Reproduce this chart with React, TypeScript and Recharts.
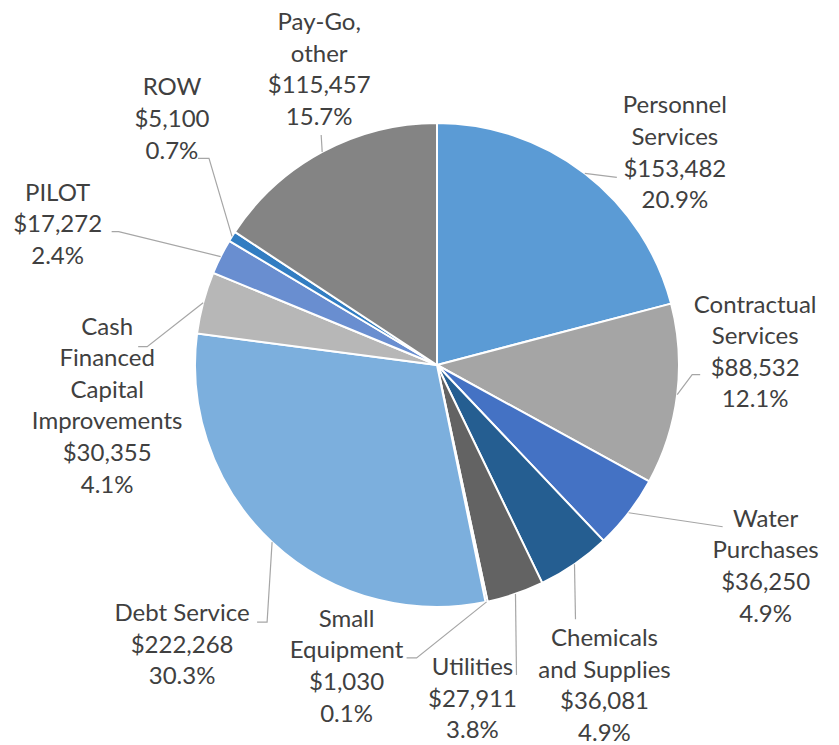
import React from "react";
import { PieChart, Pie, Cell } from "recharts";

const categories: string[][] = [
  ["Personnel", "Services"],
  ["Contractual", "Services"],
  ["Water", "Purchases"],
  ["Chemicals", "and Supplies"],
  ["Utilities"],
  ["Small", "Equipment"],
  ["Debt Service"],
  ["Cash", "Financed", "Capital", "Improvements"],
  ["PILOT"],
  ["ROW"],
  ["Pay-Go,", "other"],
];

const values: number[] = [
  153482, 88532, 36250, 36081, 27911, 1030, 222268, 30355, 17272, 5100, 115457,
];

const colors: string[] = [
  "#5B9BD5", "#A5A5A5", "#4472C4", "#255E91", "#636363", "#264478",
  "#7CAFDD", "#B7B7B7", "#698ED0", "#327DC2", "#848484",
];

// label placement relative to the slice's outer edge point (leader elbow points, text center, first line y)
const labelLayout: { line: number[][]; tx: number; ty: number }[] = [
  { line: [[32, 4]], tx: 90, ty: -68 },
  { line: [[15, -20], [23, -20]], tx: 78, ty: -90 },
  { line: [[94, 14]], tx: 137, ty: 6 },
  { line: [[1, 55]], tx: 30, ty: 74 },
  { line: [[1, 81]], tx: -43, ty: 73 },
  { line: [[-70, 56], [-80, 56]], tx: -140, ty: 17 },
  { line: [[-5, 80], [-15, 80]], tx: -90, ty: 71 },
  { line: [[-56, 44], [-65, 44]], tx: -96, ty: 24 },
  { line: [[-102, -25], [-109, -25]], tx: -163, ty: -64 },
  { line: [[-23, -78], [-34, -78]], tx: -60, ty: -149 },
  { line: [[-1, -17]], tx: -3, ty: -130 },
];

const data = categories.map((c, i) => ({ name: c.join(" "), value: values[i] }));

const LINE_H = 31.6;
const FONT_SIZE = 24;
const RAD = Math.PI / 180;

const fmt = (v: number) => "$" + v.toLocaleString("en-US");

const renderLabel = (props: any) => {
  const { cx, cy, midAngle, outerRadius, index, value, percent } = props;
  const ex = cx + outerRadius * Math.cos(-midAngle * RAD);
  const ey = cy + outerRadius * Math.sin(-midAngle * RAD);
  const lay = labelLayout[index];
  const pts = [[ex, ey], ...lay.line.map(([dx, dy]) => [ex + dx, ey + dy])];
  const lines = [...categories[index], fmt(value), (percent * 100).toFixed(1) + "%"];
  const x = ex + lay.tx;
  return (
    <g key={"lbl" + index}>
      <polyline
        points={pts.map((p) => p.join(",")).join(" ")}
        fill="none"
        stroke="#A6A6A6"
        strokeWidth={1.2}
      />
      <text
        textAnchor="middle"
        fill="#404040"
        fontFamily="Lato, 'Open Sans', sans-serif"
        fontSize={FONT_SIZE}
      >
        {lines.map((l, i) => (
          <tspan key={i} x={x} y={ey + lay.ty + i * LINE_H + 8}>
            {l}
          </tspan>
        ))}
      </text>
    </g>
  );
};

export default function App() {
  return (
    <div style={{ margin: "-8px 0 0 -8px", width: 839, height: 745 }}>
      <PieChart width={839} height={745}>
        <Pie
          data={data}
          dataKey="value"
          nameKey="name"
          cx={432}
          cy={360}
          outerRadius={242}
          startAngle={90}
          endAngle={-270}
          stroke="#FFFFFF"
          strokeWidth={2}
          label={renderLabel}
          labelLine={false}
          isAnimationActive={false}
        >
          {data.map((d, i) => (
            <Cell key={d.name} fill={colors[i]} />
          ))}
        </Pie>
      </PieChart>
    </div>
  );
}
